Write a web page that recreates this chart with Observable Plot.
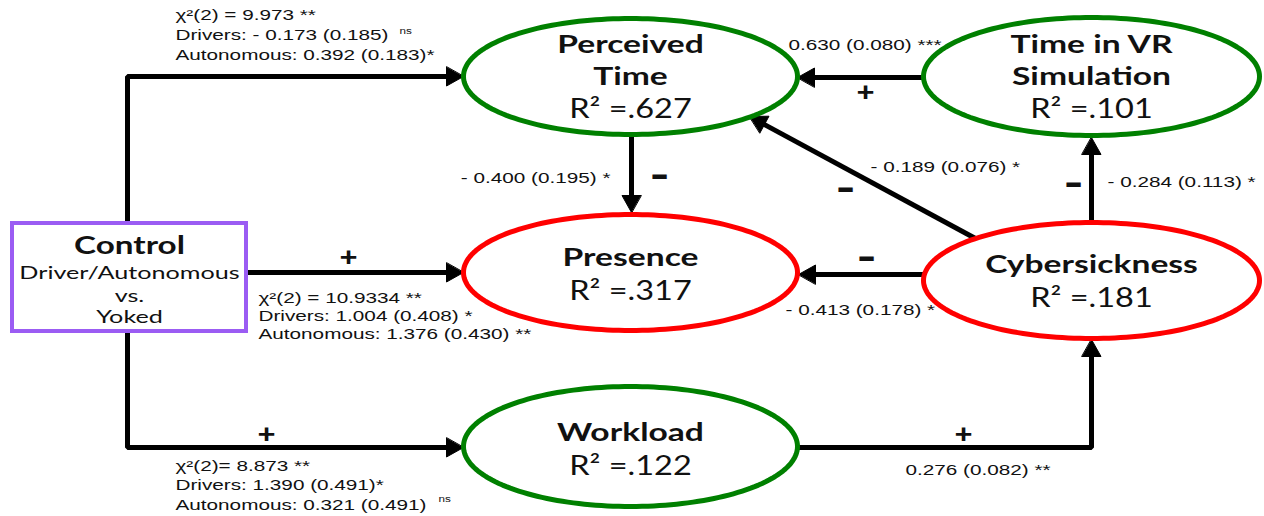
<!DOCTYPE html>
<html><head><meta charset="utf-8">
<script src="https://cdn.jsdelivr.net/npm/d3@7"></script>
<script src="https://cdn.jsdelivr.net/npm/@observablehq/plot@0.6"></script>
<style>html,body{margin:0;padding:0;background:#fff;}#chart{width:1264px;height:516px;}</style>
</head><body><div id="chart"></div>
<script>
// ---------- data ----------
const nodeIds = ["perceived", "timevr", "presence", "cyber", "workload"];
const nodeTitles = [["Perceived", "Time"], ["Time in VR", "Simulation"], ["Presence"], ["Cybersickness"], ["Workload"]];
const nodeR2 = [".627", ".101", ".317", ".181", ".122"];
const nodeGroup = ["green", "green", "red", "red", "green"];

const controlLines = ["Control", "Driver/Autonomous", "vs.", "Yoked"];

const edgeFrom = ["control", "control", "control", "timevr", "perceived", "cyber", "cyber", "cyber", "workload"];
const edgeTo = ["perceived", "presence", "workload", "perceived", "presence", "perceived", "timevr", "presence", "cyber"];
const edgeSign = ["", "+", "+", "+", "-", "-", "-", "-", "+"];
const edgeCoef = [
  ["χ²(2) = 9.973 **", "Drivers: - 0.173 (0.185)", "Autonomous: 0.392 (0.183)*"],
  ["χ²(2) = 10.9334 **", "Drivers: 1.004 (0.408) *", "Autonomous: 1.376 (0.430) **"],
  ["χ²(2)= 8.873 **", "Drivers: 1.390 (0.491)*", "Autonomous: 0.321 (0.491)"],
  ["0.630 (0.080) ***"],
  ["- 0.400 (0.195) *"],
  ["- 0.189 (0.076) *"],
  ["- 0.284 (0.113) *"],
  ["- 0.413 (0.178) *"],
  ["0.276 (0.082) **"]
];
const edgeNote = ["ns", "", "ns", "", "", "", "", "", ""];

// ---------- layout (pixel space) ----------
const nodeCx = [630, 1091, 630, 1091, 630];
const nodeCy = [76, 76, 272, 280, 446];
const nodeRx = [167, 168, 167, 168, 167];
const nodeRy = [58, 59, 58, 58, 60];
const titleY = [[45, 77], [45, 77], [258], [265], [433]];
const r2Y = [109, 109, 291, 298, 466];
const controlBox = [12, 246, 223, 331];
const controlY = [245, 273, 296, 317];
const edgePath = [
  [[127, 223], [127, 76], [463, 76]],
  [[246, 272], [463, 272]],
  [[127, 331], [127, 447], [463, 447]],
  [[923, 77], [797, 77]],
  [[631, 134], [631, 212]],
  [[975, 238], [749, 116]],
  [[1091, 222], [1091, 137]],
  [[923, 274], [798, 274]],
  [[797, 447], [1091, 447], [1091, 339]]
];
const coefPos = [[175, 15, 20], [258, 298, 18], [175, 466, 19.5], [788, 45, 0], [610, 178, 0], [870, 167, 0], [1107, 182, 0], [785, 310, 0], [905, 470, 0]];
const coefAnchor = ["start", "start", "start", "start", "end", "start", "start", "start", "start"];
const notePos = [[399, 31], null, [438, 499], null, null, null, null, null, null];
const signPos = [null, [348, 257], [266, 434], [865, 92], [659, 176], [845, 189], [1073, 184], [866, 258], [963, 434]];

// ---------- derived geometry ----------
const ellipsePts = nodeIds.flatMap((id, i) =>
  d3.range(0, 360, 2).map(a => ({
    id, group: nodeGroup[i],
    x: nodeCx[i] + nodeRx[i] * Math.cos(a * Math.PI / 180),
    y: nodeCy[i] + nodeRy[i] * Math.sin(a * Math.PI / 180)
  }))
);
const HEAD_LEN = 17, HEAD_W = 9.5;
const shafts = [], heads = [];
edgePath.forEach((pts, e) => {
  const [px, py] = pts[pts.length - 2];
  const [tx, ty] = pts[pts.length - 1];
  const L = Math.hypot(tx - px, ty - py);
  const ux = (tx - px) / L, uy = (ty - py) / L;
  pts.forEach((p, k) => {
    if (k < pts.length - 1) shafts.push({e, x: p[0], y: p[1]});
  });
  shafts.push({e, x: tx - ux * (HEAD_LEN - 2), y: ty - uy * (HEAD_LEN - 2)});
  const bx = tx - ux * HEAD_LEN, by = ty - uy * HEAD_LEN;
  heads.push({e, x: tx, y: ty});
  heads.push({e, x: bx - uy * HEAD_W, y: by + ux * HEAD_W});
  heads.push({e, x: bx + uy * HEAD_W, y: by - ux * HEAD_W});
});

const titleRows = nodeTitles.flatMap((lines, i) => lines.map((t, k) => ({text: t, x: nodeCx[i], y: titleY[i][k]})));
const r2Rows = nodeR2.map((v, i) => ({text: "R² =" + v, x: nodeCx[i], y: r2Y[i]}));
const controlRows = controlLines.map((t, k) => ({text: t, x: (controlBox[0] + controlBox[1]) / 2, y: controlY[k], bold: k === 0}));
const coefRows = edgeCoef.flatMap((lines, e) => lines.map((t, k) => ({text: t, x: coefPos[e][0], y: coefPos[e][1] + k * coefPos[e][2], anchor: coefAnchor[e]})));
const noteRows = edgeNote.map((t, e) => ({text: t, pos: notePos[e]})).filter(d => d.text && d.pos).map(d => ({text: d.text, x: d.pos[0], y: d.pos[1]}));
const signRows = edgeSign.map((s, e) => ({text: s, pos: signPos[e]})).filter(d => d.text && d.pos).map(d => ({text: d.text, x: d.pos[0], y: d.pos[1]}));

// text marks, in order; each gets a horizontal stretch matching the wide source rendering
const textSpecs = [
  [titleRows, {fontFamily: "Lato", fontWeight: "bold", fontSize: 24}, 1.4],
  [r2Rows, {fontFamily: "Lato", fontSize: 26}, 1.25],
  [controlRows.filter(d => d.bold), {fontFamily: "Lato", fontWeight: "bold", fontSize: 25}, 1.33],
  [controlRows.filter(d => !d.bold), {fontFamily: "Lato", fontSize: 18}, 1.4],
  [coefRows.filter(d => d.anchor === "start"), {fontFamily: "Liberation Sans", fontSize: 14, textAnchor: "start"}, 1.48],
  [coefRows.filter(d => d.anchor === "end"), {fontFamily: "Liberation Sans", fontSize: 14, textAnchor: "end"}, 1.48],
  [noteRows, {fontFamily: "Liberation Sans", fontSize: 9, textAnchor: "start"}, 1.3],
  [signRows.filter(d => d.text === "+"), {fontFamily: "Lato", fontWeight: 900, fontSize: 26}, 1.2],
  [signRows.filter(d => d.text === "-"), {fontFamily: "Lato", fontWeight: 900, fontSize: 40}, 1.35]
];

const svg = Plot.plot({
  width: 1264, height: 516, margin: 0,
  style: {background: "#fff", overflow: "visible"},
  x: {domain: [0, 1264], range: [0, 1264], axis: null},
  y: {domain: [0, 516], range: [0, 516], axis: null},
  color: {domain: ["green", "red"], range: ["#5ca51c", "#ee1616"]},
  marks: [
    Plot.line(shafts, {x: "x", y: "y", z: "e", stroke: "#000", strokeWidth: 5, strokeLinejoin: "miter", strokeLinecap: "butt"}),
    Plot.line(heads, {x: "x", y: "y", z: "e", curve: "linear-closed", fill: "#000", stroke: "#000", strokeWidth: 1}),
    Plot.line(ellipsePts, {x: "x", y: "y", z: "id", stroke: "group", curve: "linear-closed", fill: "#fff", strokeWidth: 5}),
    Plot.rect([controlBox], {x1: d => d[0], x2: d => d[1], y1: d => d[2], y2: d => d[3], fill: "#fff", stroke: "#9b5cf3", strokeWidth: 4}),
    ...textSpecs.map(([rows, opts]) => Plot.text(rows, {x: "x", y: "y", text: "text", fill: "#111", ...opts}))
  ]
});

const groups = d3.select(svg).selectAll('g[aria-label="text"]').nodes();
groups.forEach((g, gi) => {
  const sx = textSpecs[gi] ? textSpecs[gi][2] : 1;
  d3.select(g).selectAll("text").each(function() {
    const t = this.getAttribute("transform");
    if (t) this.setAttribute("transform", t + ` scale(${sx},1)`);
    else {
      const x = +this.getAttribute("x") || 0, y = +this.getAttribute("y") || 0;
      this.setAttribute("transform", `translate(${x},${y}) scale(${sx},1) translate(${-x},${-y})`);
    }
  });
});
document.getElementById("chart").appendChild(svg);
</script>
</body></html>
